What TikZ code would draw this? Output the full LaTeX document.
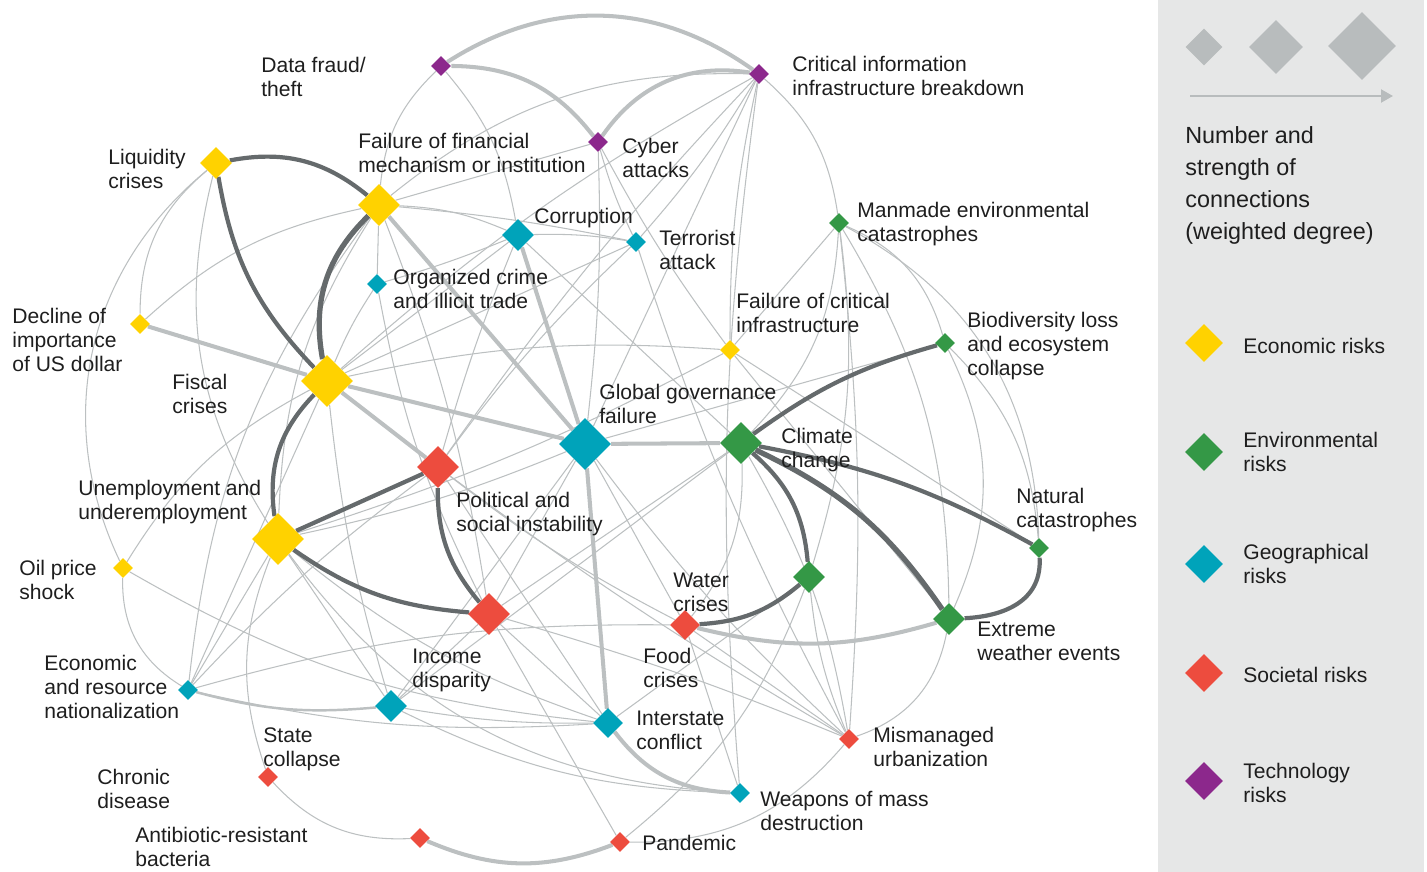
\documentclass[tikz,border=0pt]{standalone}
\usepackage{fontspec}
\setmainfont{Liberation Sans}
\usepackage{tikz}
\usetikzlibrary{shapes.geometric,arrows.meta,backgrounds}

\definecolor{econ}{RGB}{255,210,0}
\definecolor{env}{RGB}{52,152,70}
\definecolor{geo}{RGB}{0,163,186}
\definecolor{soc}{RGB}{237,76,62}
\definecolor{tech}{RGB}{140,40,140}
\definecolor{lgray}{RGB}{188,192,193}
\definecolor{dgray}{RGB}{101,106,108}
\definecolor{keygray}{RGB}{184,188,189}
\definecolor{panel}{RGB}{230,231,231}
\definecolor{txt}{RGB}{30,30,30}

\begin{document}
\begin{tikzpicture}[x=0.02cm, y=-0.02cm,
      risk/.style={diamond,inner sep=0pt,draw=none},
      r10/.style={risk,minimum size=0.4cm},
      r15/.style={risk,minimum size=0.6cm},
      r16/.style={risk,minimum size=0.64cm},
      r21/.style={risk,minimum size=0.84cm},
      r26/.style={risk,minimum size=1.04cm}]
    \tikzstyle{word} = [font=\fontsize{12}{13.6}\selectfont,color=txt,anchor=base west,align=left,inner sep=0pt]
    \tikzstyle{weaklink} = [draw=lgray,line width=0.6pt]
    \tikzstyle{midlink} = [draw=lgray,line width=2.3pt]
    \tikzstyle{stronglink} = [draw=dgray,line width=2.4pt]
    \useasboundingbox (0,0) rectangle (1427,872);
    \fill[panel] (1158,0) rectangle (1424,872);

    \node (data_fraud) [r10,fill=tech] at (441,66) {};
    \node (crit_info) [r10,fill=tech] at (759,74) {};
    \node (cyber) [r10,fill=tech] at (598,142) {};
    \node (liquidity) [r16,fill=econ] at (216,163) {};
    \node (fin_fail) [r21,fill=econ] at (379,205) {};
    \node (corruption) [r16,fill=geo] at (518,235) {};
    \node (terror) [r10,fill=geo] at (636,242) {};
    \node (org_crime) [r10,fill=geo] at (377,284) {};
    \node (manmade) [r10,fill=env] at (839,223) {};
    \node (dollar) [r10,fill=econ] at (140,324) {};
    \node (fiscal) [r26,fill=econ] at (327,381) {};
    \node (crit_infra) [r10,fill=econ] at (730,350) {};
    \node (biodiv) [r10,fill=env] at (945,343) {};
    \node (gov_fail) [r26,fill=geo] at (585,444) {};
    \node (climate) [r21,fill=env] at (741,443) {};
    \node (political) [r21,fill=soc] at (438,467) {};
    \node (nat_cat) [r10,fill=env] at (1039,548) {};
    \node (unemploy) [r26,fill=econ] at (278,539) {};
    \node (oil) [r10,fill=econ] at (123,568) {};
    \node (water) [r16,fill=env] at (809,577) {};
    \node (income) [r21,fill=soc] at (489,614) {};
    \node (food) [r15,fill=soc] at (685,625) {};
    \node (extreme) [r16,fill=env] at (949,619) {};
    \node (econ_nat) [r10,fill=geo] at (188,690) {};
    \node (state) [r16,fill=geo] at (391,706) {};
    \node (interstate) [r15,fill=geo] at (608,723) {};
    \node (urban) [r10,fill=soc] at (849,739) {};
    \node (wmd) [r10,fill=geo] at (740,793) {};
    \node (chronic) [r10,fill=soc] at (268,777) {};
    \node (antibio) [r10,fill=soc] at (420,838) {};
    \node (pandemic) [r10,fill=soc] at (620,842) {};

    \begin{pgfonlayer}{background}
    \foreach \a/\b/\c in {data_fraud/fin_fail/-20, data_fraud/corruption/15,
        crit_info/fin_fail/-20, crit_info/fiscal/-6, crit_info/terror/5, crit_info/gov_fail/0,
        crit_info/political/-4, crit_info/crit_infra/-6, crit_info/manmade/20, crit_info/wmd/-6,
        cyber/fin_fail/0, cyber/terror/-5, cyber/gov_fail/4, cyber/crit_infra/-4,
        fin_fail/corruption/10, fin_fail/org_crime/0, fin_fail/terror/3, fin_fail/dollar/-15,
        fin_fail/unemploy/-15, fin_fail/income/6,
        liquidity/dollar/-25, liquidity/oil/-38, liquidity/unemploy/-23,
        corruption/terror/5, corruption/org_crime/3, corruption/fiscal/0, corruption/political/-3,
        corruption/climate/0, org_crime/fiscal/-5, org_crime/income/-8,
        terror/fiscal/0, terror/political/-5, terror/urban/-5,
        manmade/crit_infra/0, manmade/climate/20, manmade/biodiv/25, manmade/nat_cat/30,
        manmade/extreme/15, manmade/urban/5, manmade/water/12,
        biodiv/gov_fail/0, biodiv/nat_cat/20, biodiv/extreme/25,
        fiscal/crit_infra/8, crit_infra/nat_cat/0, crit_infra/extreme/0, crit_infra/unemploy/5,
        gov_fail/income/0, gov_fail/food/0, gov_fail/urban/-5, gov_fail/unemploy/5, gov_fail/state/0,
        political/food/-5, political/interstate/0, political/urban/-3, political/econ_nat/-5,
        climate/food/20, climate/urban/10, climate/state/0,
        water/urban/-8, water/pandemic/15, water/interstate/0, extreme/urban/30,
        econ_nat/food/8, food/wmd/0, food/urban/0,
        income/interstate/0, income/pandemic/0, income/urban/3, income/climate/0, income/state/0,
        state/unemploy/0, state/interstate/-5, state/wmd/-12, state/fiscal/5,
        econ_nat/interstate/-8, oil/interstate/-12, urban/pandemic/25,
        unemploy/wmd/-25, unemploy/chronic/-20, unemploy/econ_nat/0, unemploy/interstate/-10,
        chronic/antibio/-25, econ_nat/fiscal/0, econ_nat/fin_fail/15,
        oil/econ_nat/-30, oil/fiscal/15}
      \draw[weaklink] (\a) to[bend left=\c] (\b);
    \draw[weaklink,line width=1.4pt] (econ_nat) to[bend left=-10] (state);
    \foreach \a/\b/\c in {data_fraud/crit_info/34, data_fraud/cyber/26, cyber/crit_info/32,
        dollar/fiscal/0, fiscal/gov_fail/0, fiscal/political/0, fin_fail/gov_fail/0,
        corruption/gov_fail/0, gov_fail/climate/0, gov_fail/interstate/0,
        interstate/wmd/-25, food/extreme/-15, antibio/pandemic/-22}
      \draw[midlink] (\a) to[bend left=\c] (\b);
    \foreach \a/\b/\c in {liquidity/fin_fail/25, liquidity/fiscal/-17, fiscal/unemploy/-26,
        unemploy/political/0, unemploy/income/-15, political/income/-20,
        climate/biodiv/10, climate/nat_cat/9, climate/water/22, water/food/18}
      \draw[stronglink] (\a) to[bend left=\c] (\b);
    \draw[stronglink,line width=3pt] (fin_fail) to[bend right=28] (fiscal);
    \draw[stronglink,line width=3pt] (climate) to[bend left=15] (extreme);
    \draw[stronglink] (extreme) .. controls +(60,-3) and +(3,50) .. (nat_cat);
    \end{pgfonlayer}

    \node[word] (l_data_fraud) at (261,96) {Data fraud/\\theft};
    \node[word] (l_crit_info) at (792,95) {Critical information\\infrastructure breakdown};
    \node[word] (l_liquidity) at (108,188) {Liquidity\\crises};
    \node[word] (l_fin_fail) at (358,172) {Failure of financial\\mechanism or institution};
    \node[word] (l_cyber) at (622,177) {Cyber\\attacks};
    \node[word] (l_corruption) at (534,223) {Corruption};
    \node[word] (l_terror) at (659,269) {Terrorist\\attack};
    \node[word] (l_org_crime) at (393,308) {Organized crime\\and illicit trade};
    \node[word] (l_manmade) at (857,241) {Manmade environmental\\catastrophes};
    \node[word] (l_dollar) at (12,371) {Decline of\\importance\\of US dollar};
    \node[word] (l_fiscal) at (172,413) {Fiscal\\crises};
    \node[word] (l_crit_infra) at (736,332) {Failure of critical\\infrastructure};
    \node[word] (l_biodiv) at (967,375) {Biodiversity loss\\and ecosystem\\collapse};
    \node[word] (l_gov_fail) at (599,423) {Global governance\\failure};
    \node[word] (l_climate) at (781,467) {Climate\\change};
    \node[word] (l_political) at (456,531) {Political and\\social instability};
    \node[word] (l_nat_cat) at (1016,527) {Natural\\catastrophes};
    \node[word] (l_unemploy) at (78,519) {Unemployment and\\underemployment};
    \node[word] (l_oil) at (19,599) {Oil price\\shock};
    \node[word] (l_water) at (673,611) {Water\\crises};
    \node[word] (l_income) at (412,687) {Income\\disparity};
    \node[word] (l_food) at (643,687) {Food\\crises};
    \node[word] (l_extreme) at (977,660) {Extreme\\weather events};
    \node[word] (l_econ_nat) at (44,718) {Economic\\and resource\\nationalization};
    \node[word] (l_state) at (263,766) {State\\collapse};
    \node[word] (l_chronic) at (97,808) {Chronic\\disease};
    \node[word] (l_antibio) at (135,866) {Antibiotic-resistant\\bacteria};
    \node[word] (l_interstate) at (636,749) {Interstate\\conflict};
    \node[word] (l_urban) at (873,766) {Mismanaged\\urbanization};
    \node[word] (l_wmd) at (760,830) {Weapons of mass\\destruction};
    \node[word] (l_pandemic) at (642,850) {Pandemic};

    \node (key_small) [risk,fill=keygray,minimum size=0.74cm] at (1204,47) {};
    \node (key_mid) [risk,fill=keygray,minimum size=1.08cm] at (1276,47) {};
    \node (key_big) [risk,fill=keygray,minimum size=1.36cm] at (1362,46) {};
    \coordinate (arrow_tail) at (1190,96);
    \coordinate (arrow_head) at (1393,96);
    \draw[keygray,line width=1.2pt,-{Triangle[length=0.24cm,width=0.26cm]}] (arrow_tail) -- (arrow_head);
    \node[word,font=\fontsize{13.3}{18.1}\selectfont] (key_title) at (1185,239)
      {Number and\\strength of\\connections\\(weighted degree)};
    \foreach \cat/\ypos/\tpos/\txt in {econ/343/353/{Economic risks}, env/452/471/{Environmental\\risks},
        geo/564/583/{Geographical\\risks}, soc/673/682/{Societal risks}, tech/781/802/{Technology\\risks}}
    {
      \node (key_\cat) [risk,fill=\cat,minimum size=0.76cm] at (1204,\ypos) {};
      \node[word] (key_\cat_text) at (1243,\tpos) {\txt};
    }
  \end{tikzpicture}
\end{document}
